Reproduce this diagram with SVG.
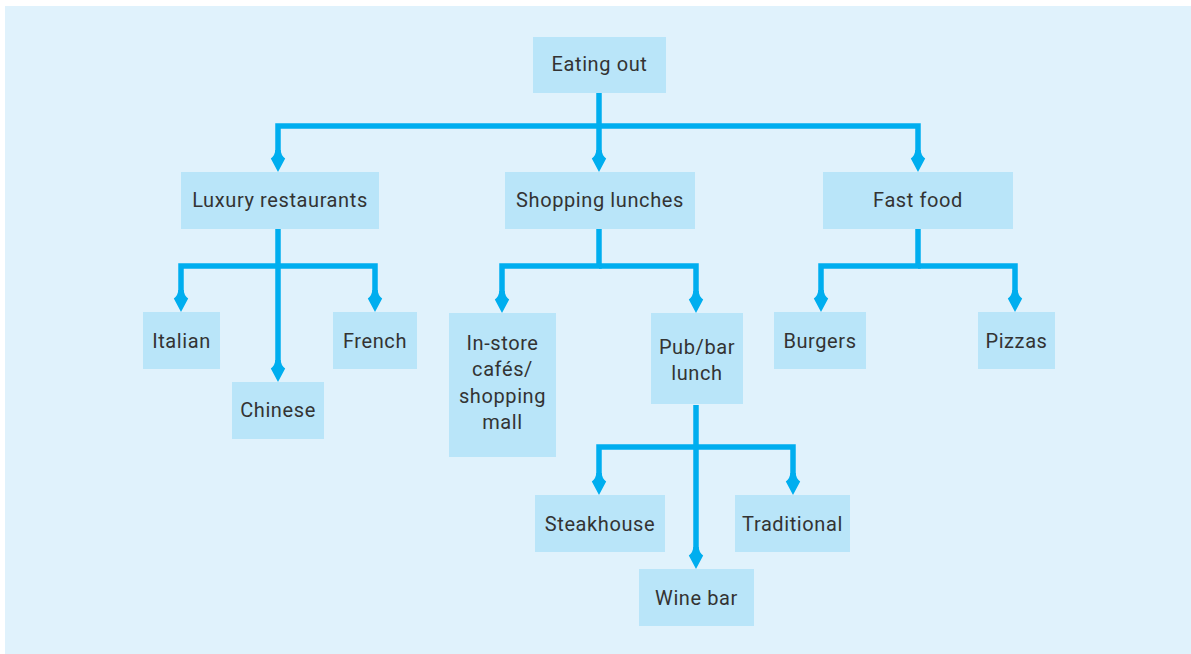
<svg xmlns="http://www.w3.org/2000/svg" width="1191" height="654" viewBox="0 0 1191 654">
  <style>
    .box { fill: #b9e5f9; }
    .lbl { font-family: Roboto, "Liberation Sans", sans-serif; font-size: 20px; fill: #333333; text-anchor: middle; letter-spacing: 0.6px; }
    .link { fill: none; stroke: #00aeef; stroke-width: 5.5; stroke-linejoin: miter; stroke-linecap: butt; marker-end: url(#arrow); }
  </style>
  <defs>
    <!-- flared arrowhead; path ends 12px short of the tip -->
    <marker id="arrow" markerUnits="userSpaceOnUse" orient="auto" refX="0" refY="0" viewBox="-11 -8 24 16" markerWidth="24" markerHeight="16" overflow="visible">
      <path d="M12,0 L-1.5,-7.2 Q-5,-2.75 -10,-2.75 L-10,2.75 Q-5,2.75 -1.5,7.2 Z" fill="#00aeef"/>
    </marker>
  </defs>

  <rect x="5" y="6" width="1186" height="648" fill="#e0f2fc"/>

  <g id="connectors">
    <path class="link" d="M599,93 V160"/>
    <path class="link" d="M599,126 H278 V160"/>
    <path class="link" d="M599,126 H918 V160"/>

    <path class="link" d="M278,229 V370"/>
    <path class="link" d="M278,266 H181 V300"/>
    <path class="link" d="M278,266 H375 V300"/>

    <path class="link" d="M599,229 V266 H502 V301"/>
    <path class="link" d="M599,266 H696 V301"/>

    <path class="link" d="M918,229 V266 H821 V300"/>
    <path class="link" d="M918,266 H1015 V300"/>

    <path class="link" d="M696,405 V557"/>
    <path class="link" d="M696,447 H599 V483"/>
    <path class="link" d="M696,447 H793 V483"/>
  </g>

  <g id="eating-out">
    <rect class="box" x="533" y="37" width="133" height="56"/>
    <text class="lbl" x="599.5" y="71">Eating out</text>
  </g>

  <g id="luxury-restaurants">
    <rect class="box" x="181" y="172" width="198" height="57"/>
    <text class="lbl" x="280" y="207">Luxury restaurants</text>
  </g>
  <g id="shopping-lunches">
    <rect class="box" x="505" y="172" width="190" height="57"/>
    <text class="lbl" x="600" y="207">Shopping lunches</text>
  </g>
  <g id="fast-food">
    <rect class="box" x="823" y="172" width="190" height="57"/>
    <text class="lbl" x="918" y="207">Fast food</text>
  </g>

  <g id="italian">
    <rect class="box" x="143" y="312" width="77" height="57"/>
    <text class="lbl" x="181.5" y="348">Italian</text>
  </g>
  <g id="chinese">
    <rect class="box" x="232" y="382" width="92" height="57"/>
    <text class="lbl" x="278" y="417">Chinese</text>
  </g>
  <g id="french">
    <rect class="box" x="333" y="312" width="84" height="57"/>
    <text class="lbl" x="375" y="348">French</text>
  </g>

  <g id="in-store-cafes">
    <rect class="box" x="449" y="313" width="107" height="144"/>
    <text class="lbl" x="502.5" y="349.5">In-store</text>
    <text class="lbl" x="502.5" y="376">cafés/</text>
    <text class="lbl" x="502.5" y="402.5">shopping</text>
    <text class="lbl" x="502.5" y="429">mall</text>
  </g>
  <g id="pub-bar-lunch">
    <rect class="box" x="651" y="313" width="92" height="91"/>
    <text class="lbl" x="697" y="353.5">Pub/bar</text>
    <text class="lbl" x="697" y="380">lunch</text>
  </g>

  <g id="burgers">
    <rect class="box" x="774" y="312" width="92" height="57"/>
    <text class="lbl" x="820" y="348">Burgers</text>
  </g>
  <g id="pizzas">
    <rect class="box" x="978" y="312" width="77" height="57"/>
    <text class="lbl" x="1016.5" y="348">Pizzas</text>
  </g>

  <g id="steakhouse">
    <rect class="box" x="535" y="495" width="130" height="57"/>
    <text class="lbl" x="600" y="531">Steakhouse</text>
  </g>
  <g id="traditional">
    <rect class="box" x="735" y="495" width="115" height="57"/>
    <text class="lbl" x="792.5" y="531">Traditional</text>
  </g>
  <g id="wine-bar">
    <rect class="box" x="639" y="569" width="115" height="57"/>
    <text class="lbl" x="696.5" y="605">Wine bar</text>
  </g>
</svg>
